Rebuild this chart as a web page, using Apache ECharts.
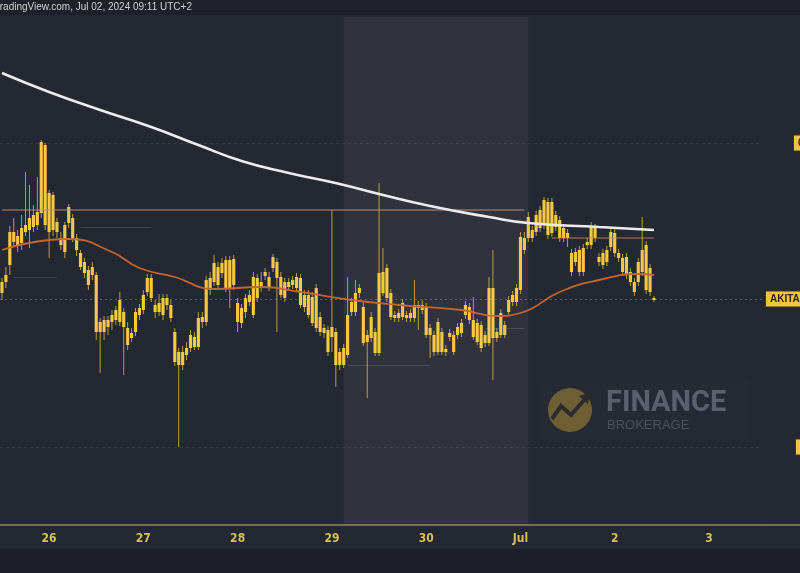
<!DOCTYPE html>
<html>
<head>
<meta charset="utf-8">
<script src="https://cdn.jsdelivr.net/npm/echarts@6/dist/echarts.min.js"></script>
<style>
html,body{margin:0;padding:0;background:#1c1f27;}
#chart{width:800px;height:573px;}
</style>
</head>
<body>
<div id="chart"></div>
<script>
// Hourly candles, first at 2024-06-25 12:00 (UTC+2)
const opens = [
243,243,260,283,289,282,293,295,298,300,
312,380,332,295,303,287,273,302,307,287,
272,263,255,250,250,193,205,198,203,205,
203,213,197,187,193,210,215,233,247,220,
213,210,220,220,193,173,160,170,177,188,
178,203,203,247,243,258,252,265,237,266,
222,202,213,223,210,247,237,249,248,257,
263,248,243,238,240,248,247,230,210,228,
197,208,197,195,188,193,160,177,170,213,
213,232,218,183,187,193,172,253,227,232,
210,207,208,210,207,207,220,215,218,197,
190,173,193,176,188,190,190,192,210,218,
205,202,200,182,182,237,187,190,200,213,
223,223,235,287,287,295,293,297,300,323,
292,310,305,297,287,272,263,275,253,280,
280,297,268,260,263,278,292,272,267,250,
253,243,243,253,280,257,227];
const closes = [
232,250,293,293,279,297,300,307,310,313,
383,300,293,330,293,280,300,318,287,275,
258,252,240,258,193,203,193,205,210,215,
225,198,180,192,213,217,230,247,227,213,
222,227,227,207,163,160,173,177,190,178,
207,208,245,235,262,240,262,237,265,240,
203,217,227,230,248,227,243,253,238,268,
247,230,227,243,245,237,220,218,230,202,
237,193,192,173,198,160,173,160,210,223,
232,237,182,190,208,172,252,232,257,208,
207,212,222,207,212,220,217,220,190,190,
173,203,173,173,192,173,198,202,220,205,
188,183,177,190,237,187,193,212,190,225,
230,237,288,275,308,287,310,315,325,290,
323,298,287,287,292,253,273,253,277,283,
298,287,263,272,275,293,272,267,253,268,
243,233,263,275,235,233,225];
const lows = [
225,237,250,278,273,275,289,277,293,295,
307,295,267,289,287,275,267,297,283,269,
255,247,235,245,185,152,185,190,195,200,
199,150,175,183,189,205,211,229,223,207,
209,205,215,203,159,78,155,165,173,175,
175,197,199,230,239,235,247,233,217,235,
193,197,207,219,207,223,233,245,234,253,
193,227,223,234,236,233,217,213,207,199,
193,189,187,169,173,138,155,157,167,209,
209,227,179,127,183,169,169,229,223,205,
203,203,205,203,203,203,195,211,187,167,
169,170,170,169,184,170,186,188,206,201,
185,180,173,178,179,145,183,187,187,209,
219,219,231,271,283,283,289,293,296,286,
288,294,283,283,278,249,259,249,249,276,
276,283,259,256,259,274,268,263,249,246,
239,229,239,249,231,229,223];
const highs = [
247,258,299,307,295,310,353,340,320,348,
385,382,335,333,307,293,303,321,311,291,
275,267,259,263,253,207,209,209,215,219,
233,217,203,197,217,221,235,251,251,225,
231,231,231,225,197,177,179,183,195,193,
213,213,249,253,270,263,267,269,269,270,
227,221,231,235,253,251,253,257,253,271,
267,253,247,247,249,252,251,235,235,233,
241,213,201,199,315,197,177,181,248,227,
245,241,223,195,213,197,342,277,261,236,
214,216,226,214,216,245,224,225,222,201,
194,207,197,180,196,194,202,206,224,222,
228,206,204,194,248,275,197,216,204,229,
234,241,293,293,313,299,314,319,328,327,
327,314,309,301,296,276,277,279,281,287,
303,301,272,276,279,297,296,276,271,272,
257,247,267,308,284,261,229];

// Moving averages read at sample candles (candle index, price)
const maLongIdx = [0,12,25,38,50,61,73,86,96,109,124,134,152,166];
const maLongVal = [452,433,415,398,380,364,352,341,331,319,308,302,298,295];
const maShortIdx = [0,12,17,28,35,44,54,66,76,89,101,117,126,132,142,152,162,166];
const maShortVal = [275,285,286,273,257,248,236,238,233,225,220,215,209,212,233,245,251,250];

// Levels
const lastPrice = 226;
const upperLevel = 382;
const lowerLevel = 78;
const resistance = 315;   // from first candle to candle 133
const resistance2 = 287;  // from candle 140 to last
const tickerLabel = 'AKITAUSDT';
const upperLabel = '0.0000001';
const lowerLabel = '0.0000001';

// Hourly time categories
const hourCount = 194;
const startMs = Date.UTC(2024, 5, 25, 12);
const hours = [];
for (let i = 0; i < hourCount; i++) {
  hours.push(new Date(startMs + i * 3600000).toISOString().slice(0, 16));
}

const candles = opens.map((o, i) => [i, o, closes[i], lows[i], highs[i]]);
const maLong = maLongIdx.map((x, i) => [x, maLongVal[i]]);
const maShort = maShortIdx.map((x, i) => [x, maShortVal[i]]);

function renderCandle(params, api) {
  const i = api.value(0);
  const o = api.coord([i, api.value(1)]);
  const c = api.coord([i, api.value(2)]);
  const l = api.coord([i, api.value(3)]);
  const h = api.coord([i, api.value(4)]);
  const bw = api.size([1, 0])[0] * 0.8;
  const top = Math.min(o[1], c[1]);
  const bh = Math.max(Math.abs(o[1] - c[1]), 1.5);
  return {
    type: 'group',
    children: [
      { type: 'line', shape: { x1: h[0], y1: h[1], x2: l[0], y2: l[1] },
        style: { stroke: '#b89d3e', lineWidth: 1 } },
      { type: 'rect', shape: { x: o[0] - bw / 2, y: top, width: bw, height: bh },
        style: { fill: '#f6c944' } }
    ]
  };
}

const faint = { color: 'rgba(170,170,180,0.22)', type: 'solid', width: 1 };
const chart = echarts.init(document.getElementById('chart'));
chart.setOption({
  backgroundColor: '#242833',
  animation: false,
  grid: { left: 0, right: 38, top: 17, bottom: 48 },
  xAxis: {
    type: 'category',
    data: hours,
    boundaryGap: true,
    axisLine: { lineStyle: { color: '#8d8862', width: 1.5 } },
    axisTick: { show: false },
    splitLine: { show: false },
    axisLabel: {
      color: '#d8bf5e', fontSize: 12, fontWeight: 'bold',
      fontFamily: 'Liberation Sans Narrow, DejaVu Sans Condensed, sans-serif',
      margin: 8,
      interval: (idx, val) => val.slice(11, 16) === '00:00',
      formatter: (val) => {
        const d = parseInt(val.slice(8, 10), 10);
        return (val.slice(5, 7) === '07' && d === 1) ? 'Jul' : String(d);
      }
    }
  },
  yAxis: {
    type: 'value', min: 0, max: 508,
    axisLabel: { show: false }, axisLine: { show: false },
    axisTick: { show: false }, splitLine: { show: false }
  },
  series: [
    {
      type: 'custom',
      renderItem: renderCandle,
      data: candles,
      encode: { x: 0, y: [1, 2, 3, 4] },
      clip: true,
      z: 3,
      markArea: {
        silent: true,
        itemStyle: { color: 'rgba(255,255,255,0.055)' },
        data: [[{ xAxis: 87 }, { xAxis: 134 }]]
      },
      markLine: {
        silent: true,
        symbol: 'none',
        animation: false,
        data: [
          { yAxis: lastPrice, lineStyle: { color: 'rgba(190,190,200,0.35)', type: [2, 3], width: 1 },
            label: { show: true, position: 'end', distance: 4, formatter: tickerLabel,
              backgroundColor: '#f2c540', color: '#2a2410', fontSize: 10, fontWeight: 'bold',
              padding: [3, 4, 2, 4], borderColor: '#3a3418', borderWidth: 1 } },
          { yAxis: upperLevel, lineStyle: { color: 'rgba(170,170,180,0.16)', type: [3, 3], width: 1 },
            label: { show: true, position: 'end', distance: 32, formatter: upperLabel,
              backgroundColor: '#f2c540', color: '#2a2410', fontSize: 10, fontWeight: 'bold',
              padding: [3, 4, 2, 4], borderColor: '#3a3418', borderWidth: 1 } },
          { yAxis: lowerLevel, lineStyle: { color: 'rgba(170,170,180,0.16)', type: [3, 3], width: 1 },
            label: { show: true, position: 'end', distance: 34, formatter: lowerLabel,
              backgroundColor: '#f2c540', color: '#2a2410', fontSize: 10, fontWeight: 'bold',
              padding: [3, 4, 2, 4], borderColor: '#3a3418', borderWidth: 1 } },
          [{ coord: [0, resistance], lineStyle: { color: 'rgba(205,135,115,0.65)', type: 'solid', width: 1.5 }, label: { show: false } },
           { coord: [133, resistance] }],
          [{ coord: [140, resistance2], lineStyle: { color: 'rgba(205,135,115,0.55)', type: 'solid', width: 1.5 }, label: { show: false } },
           { coord: [166, resistance2] }],
          [{ coord: [20, 298], lineStyle: faint, label: { show: false } }, { coord: [38, 298] }],
          [{ coord: [3, 248], lineStyle: faint, label: { show: false } }, { coord: [14, 248] }],
          [{ coord: [88, 160], lineStyle: faint, label: { show: false } }, { coord: [109, 160] }],
          [{ coord: [123, 197], lineStyle: faint, label: { show: false } }, { coord: [133, 197] }]
        ]
      }
    },
    {
      type: 'line', data: maShort, smooth: 0.5, showSymbol: false, z: 4,
      lineStyle: { color: '#c4652f', width: 1.8 }
    },
    {
      type: 'line', data: maLong, smooth: 0.5, showSymbol: false, z: 5,
      lineStyle: { color: '#ececf0', width: 2.6 }
    }
  ],
  graphic: [
    { type: 'rect', z: -10, shape: { x: 0, y: 0, width: 800, height: 15 }, style: { fill: '#1e2129' } },
    { type: 'rect', z: -10, shape: { x: 0, y: 549, width: 800, height: 24 }, style: { fill: '#1c1f27' } },
    { type: 'line', z: 1, shape: { x1: 762, y1: 525, x2: 800, y2: 525 }, style: { stroke: '#8d8862', lineWidth: 1.5 } },
    { type: 'text', z: 10, left: -6, top: 2,
      style: { text: 'TradingView.com, Jul 02, 2024 09:11 UTC+2', fill: '#cfcfd4', fontSize: 10,
        fontFamily: 'Liberation Sans Narrow, sans-serif' } },
    { type: 'group', z: 1, children: [
      { type: 'rect', shape: { x: 537, y: 378, width: 213, height: 62 }, style: { fill: 'rgba(255,255,255,0.012)' } },
      { type: 'circle', shape: { cx: 570, cy: 410, r: 22 }, style: { fill: '#6d5f33' } },
      { type: 'polyline', shape: { points: [[552, 419], [561, 406], [571, 415], [586, 398]] },
        style: { stroke: '#2b2b2e', lineWidth: 4, fill: null } },
      { type: 'polygon', shape: { points: [[579, 396], [590, 393], [588, 404]] }, style: { fill: '#2b2b2e' } },
      { type: 'text', style: { x: 606, y: 389, text: 'FINANCE', fill: '#5b606e', fontSize: 29,
        fontWeight: 'bold', fontFamily: 'Roboto, sans-serif' } },
      { type: 'text', style: { x: 607, y: 419, text: 'BROKERAGE', fill: '#4b4f5b', fontSize: 13,
        fontFamily: 'Liberation Sans Narrow, sans-serif' } }
    ] }
  ]
});
</script>
</body>
</html>
